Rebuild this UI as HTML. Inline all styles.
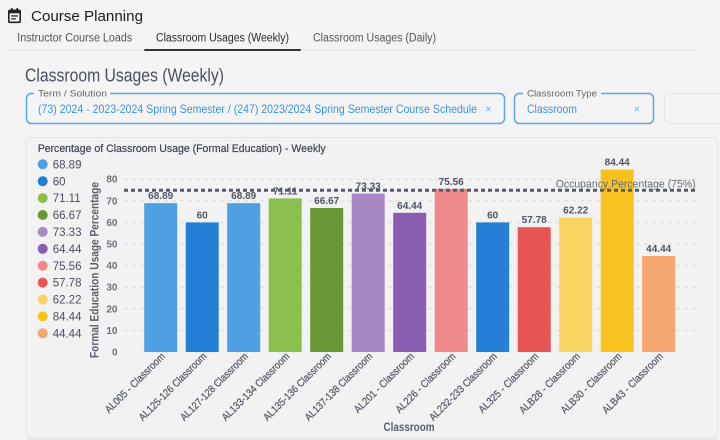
<!DOCTYPE html>
<html>
<head>
<meta charset="utf-8">
<style>
  html,body{margin:0;padding:0;background:#f4f4f4;}
  body{width:720px;height:440px;overflow:hidden;}
  svg{display:block;}
  text{font-family:"Liberation Sans",sans-serif;}
</style>
</head>
<body>
<svg width="720" height="440" viewBox="0 0 720 440" xmlns="http://www.w3.org/2000/svg">
  <rect x="0" y="0" width="720" height="440" fill="#f4f4f4"/>

  <!-- Header icon -->
  <g fill="none" stroke="#222" stroke-width="1.6">
    <rect x="8.8" y="10.3" width="11.4" height="12" rx="1.2"/>
  </g>
  <rect x="8.8" y="10.3" width="11.4" height="3" fill="#222"/>
  <rect x="11" y="8" width="1.6" height="3.5" fill="#222"/>
  <rect x="16.4" y="8" width="1.6" height="3.5" fill="#222"/>
  <rect x="11.2" y="15.3" width="6.6" height="1.3" fill="#222"/>
  <rect x="11.2" y="18.2" width="4.6" height="1.3" fill="#222"/>

  <text x="31" y="21" font-size="15" fill="#1c1c1c" textLength="112" lengthAdjust="spacingAndGlyphs">Course Planning</text>

  <!-- Tabs -->
  <text x="17.3" y="41.5" font-size="11.5" fill="#555" textLength="115" lengthAdjust="spacingAndGlyphs">Instructor Course Loads</text>
  <text x="156" y="41.5" font-size="11.5" fill="#2b2b2b" textLength="133" lengthAdjust="spacingAndGlyphs">Classroom Usages (Weekly)</text>
  <text x="313" y="41.5" font-size="11.5" fill="#555" textLength="123" lengthAdjust="spacingAndGlyphs">Classroom Usages (Daily)</text>
  <rect x="6" y="49.5" width="692" height="1" fill="#e3e3e3"/>
  <rect x="144.3" y="49" width="156.5" height="2" fill="#333"/>

  <!-- Heading -->
  <text x="25" y="81.5" font-size="18" fill="#4b5064" textLength="199" lengthAdjust="spacingAndGlyphs">Classroom Usages (Weekly)</text>

  <!-- Term / Solution field -->
  <rect x="26.5" y="93.5" width="478" height="30" rx="5" fill="none" stroke="#5ba5e8" stroke-width="1.5"/>
  <rect x="34" y="90" width="76" height="6" fill="#f4f4f4"/>
  <text x="38" y="96.5" font-size="9.5" fill="#666" textLength="69" lengthAdjust="spacingAndGlyphs">Term / Solution</text>
  <text x="38" y="113.2" font-size="12" fill="#3b93df" textLength="439" lengthAdjust="spacingAndGlyphs">(73) 2024 - 2023-2024 Spring Semester / (247) 2023/2024 Spring Semester Course Schedule</text>
  <text x="488.3" y="112.5" font-size="11" fill="#6aaee8" text-anchor="middle">×</text>

  <!-- Classroom Type field -->
  <rect x="514.5" y="93.5" width="139" height="30" rx="5" fill="none" stroke="#5ba5e8" stroke-width="1.5"/>
  <rect x="523" y="90" width="78" height="6" fill="#f4f4f4"/>
  <text x="527" y="96.5" font-size="9.5" fill="#666" textLength="70" lengthAdjust="spacingAndGlyphs">Classroom Type</text>
  <text x="527" y="113.2" font-size="12" fill="#3b93df" textLength="50" lengthAdjust="spacingAndGlyphs">Classroom</text>
  <text x="636.7" y="112.5" font-size="11" fill="#6aaee8" text-anchor="middle">×</text>

  <!-- Third field (faint) -->
  <rect x="664.5" y="93.5" width="70" height="30" rx="5" fill="none" stroke="#e6e6e6" stroke-width="1"/>

  <!-- Chart card -->
  <rect x="25.5" y="137.5" width="692.5" height="300.5" rx="6" fill="#f2f2f2" stroke="#e4e4e4" stroke-width="1"/>
  <rect x="27" y="438" width="690" height="2" fill="#e8e8e8"/>

  <!-- Chart title -->
  <text x="37.7" y="152" font-size="11" fill="#3f4456" stroke="#3f4456" stroke-width="0.2" textLength="288" lengthAdjust="spacingAndGlyphs">Percentage of Classroom Usage (Formal Education) - Weekly</text>

  <!-- Legend -->
  <g font-size="11.5" fill="#4a4f62">
    <circle cx="42.7" cy="164.3" r="5" fill="#4f9fe3"/><text x="52.7" y="168.4">68.89</text>
    <circle cx="42.7" cy="181.2" r="5" fill="#2480d4"/><text x="52.7" y="185.3">60</text>
    <circle cx="42.7" cy="198.1" r="5" fill="#8bc04f"/><text x="52.7" y="202.2">71.11</text>
    <circle cx="42.7" cy="215.0" r="5" fill="#689835"/><text x="52.7" y="219.1">66.67</text>
    <circle cx="42.7" cy="231.9" r="5" fill="#a887c7"/><text x="52.7" y="236.0">73.33</text>
    <circle cx="42.7" cy="248.8" r="5" fill="#8a5db0"/><text x="52.7" y="252.9">64.44</text>
    <circle cx="42.7" cy="265.7" r="5" fill="#f08a8a"/><text x="52.7" y="269.8">75.56</text>
    <circle cx="42.7" cy="282.6" r="5" fill="#e85555"/><text x="52.7" y="286.7">57.78</text>
    <circle cx="42.7" cy="299.5" r="5" fill="#f8d460"/><text x="52.7" y="303.6">62.22</text>
    <circle cx="42.7" cy="316.4" r="5" fill="#f7c21f"/><text x="52.7" y="320.5">84.44</text>
    <circle cx="42.7" cy="333.3" r="5" fill="#f4a76e"/><text x="52.7" y="337.4">44.44</text>
  </g>

  <!-- Grid lines -->
  <g stroke="#dcdcdc" stroke-width="1" stroke-dasharray="4 4">
    <line x1="124" y1="352" x2="696" y2="352"/>
    <line x1="124" y1="330.4" x2="696" y2="330.4"/>
    <line x1="124" y1="308.8" x2="696" y2="308.8"/>
    <line x1="124" y1="287.2" x2="696" y2="287.2"/>
    <line x1="124" y1="265.6" x2="696" y2="265.6"/>
    <line x1="124" y1="244" x2="696" y2="244"/>
    <line x1="124" y1="222.4" x2="696" y2="222.4"/>
    <line x1="124" y1="200.8" x2="696" y2="200.8"/>
    <line x1="124" y1="179.2" x2="696" y2="179.2"/>
  </g>

  <!-- Y tick labels -->
  <g font-size="10" font-weight="bold" fill="#6c7080" text-anchor="end">
    <text x="117.5" y="355.5">0</text>
    <text x="117.5" y="333.9">10</text>
    <text x="117.5" y="312.3">20</text>
    <text x="117.5" y="290.7">30</text>
    <text x="117.5" y="269.1">40</text>
    <text x="117.5" y="247.5">50</text>
    <text x="117.5" y="225.9">60</text>
    <text x="117.5" y="204.3">70</text>
    <text x="117.5" y="182.7">80</text>
  </g>

  <!-- Y axis title -->
  <text transform="translate(98.5,270) rotate(-90)" font-size="12" font-weight="bold" fill="#5a5f70" text-anchor="middle" textLength="176" lengthAdjust="spacingAndGlyphs">Formal Education Usage Percentage</text>

  <!-- Bars -->
  <g>
    <rect x="144.2" y="203.2" width="33" height="148.8" fill="#4f9fe3"/>
    <rect x="185.7" y="222.4" width="33" height="129.6" fill="#2480d4"/>
    <rect x="227.2" y="203.2" width="33" height="148.8" fill="#4f9fe3"/>
    <rect x="268.7" y="198.4" width="33" height="153.6" fill="#8bc04f"/>
    <rect x="310.2" y="208.0" width="33" height="144.0" fill="#689835"/>
    <rect x="351.7" y="193.6" width="33" height="158.4" fill="#a887c7"/>
    <rect x="393.2" y="212.8" width="33" height="139.2" fill="#8a5db0"/>
    <rect x="434.7" y="188.8" width="33" height="163.2" fill="#f08a8a"/>
    <rect x="476.2" y="222.4" width="33" height="129.6" fill="#2480d4"/>
    <rect x="517.7" y="227.2" width="33" height="124.8" fill="#e85555"/>
    <rect x="559.2" y="217.6" width="33" height="134.4" fill="#f8d460"/>
    <rect x="600.7" y="169.6" width="33" height="182.4" fill="#f7c21f"/>
    <rect x="642.2" y="256.0" width="33" height="96.0" fill="#f4a76e"/>
  </g>

  <!-- Value labels -->
  <g font-size="10" font-weight="bold" fill="#4f5566" text-anchor="middle">
    <text x="160.7" y="199.2">68.89</text>
    <text x="202.2" y="218.4">60</text>
    <text x="243.7" y="199.2">68.89</text>
    <text x="285.2" y="194.4">71.11</text>
    <text x="326.7" y="204.0">66.67</text>
    <text x="368.2" y="189.6">73.33</text>
    <text x="409.7" y="208.8">64.44</text>
    <text x="451.2" y="184.8">75.56</text>
    <text x="492.7" y="218.4">60</text>
    <text x="534.2" y="223.2">57.78</text>
    <text x="575.7" y="213.6">62.22</text>
    <text x="617.2" y="165.6">84.44</text>
    <text x="658.7" y="252.0">44.44</text>
  </g>

  <!-- Occupancy line -->
  <text x="695.7" y="187.3" font-size="11" fill="#666b78" text-anchor="end" textLength="140" lengthAdjust="spacingAndGlyphs">Occupancy Percentage (75%)</text>
  <line x1="124" y1="190.3" x2="696" y2="190.3" stroke="#555b68" stroke-width="3" stroke-dasharray="4 3"/>

  <!-- X tick labels -->
  <g font-size="10.5" fill="#555a6a" stroke="#555a6a" stroke-width="0.25" text-anchor="end">
    <text transform="translate(165.7,357) rotate(-45)" textLength="80" lengthAdjust="spacingAndGlyphs">AL005 - Classroom</text>
    <text transform="translate(207.2,357) rotate(-45)" textLength="91" lengthAdjust="spacingAndGlyphs">AL125-126 Classroom</text>
    <text transform="translate(248.7,357) rotate(-45)" textLength="91" lengthAdjust="spacingAndGlyphs">AL127-128 Classroom</text>
    <text transform="translate(290.2,357) rotate(-45)" textLength="91" lengthAdjust="spacingAndGlyphs">AL133-134 Classroom</text>
    <text transform="translate(331.7,357) rotate(-45)" textLength="91" lengthAdjust="spacingAndGlyphs">AL135-136 Classroom</text>
    <text transform="translate(373.2,357) rotate(-45)" textLength="91" lengthAdjust="spacingAndGlyphs">AL137-138 Classroom</text>
    <text transform="translate(414.7,357) rotate(-45)" textLength="80" lengthAdjust="spacingAndGlyphs">AL201 - Classroom</text>
    <text transform="translate(456.2,357) rotate(-45)" textLength="80" lengthAdjust="spacingAndGlyphs">AL226 - Classroom</text>
    <text transform="translate(497.7,357) rotate(-45)" textLength="91" lengthAdjust="spacingAndGlyphs">AL232-233 Classroom</text>
    <text transform="translate(539.2,357) rotate(-45)" textLength="80" lengthAdjust="spacingAndGlyphs">AL325 - Classroom</text>
    <text transform="translate(580.7,357) rotate(-45)" textLength="81" lengthAdjust="spacingAndGlyphs">ALB28 - Classroom</text>
    <text transform="translate(622.2,357) rotate(-45)" textLength="81" lengthAdjust="spacingAndGlyphs">ALB30 - Classroom</text>
    <text transform="translate(663.7,357) rotate(-45)" textLength="81" lengthAdjust="spacingAndGlyphs">ALB43 - Classroom</text>
  </g>

  <!-- X axis title -->
  <text x="409" y="431" font-size="12" font-weight="bold" fill="#5a5f70" text-anchor="middle" textLength="51" lengthAdjust="spacingAndGlyphs">Classroom</text>
</svg>
</body>
</html>
